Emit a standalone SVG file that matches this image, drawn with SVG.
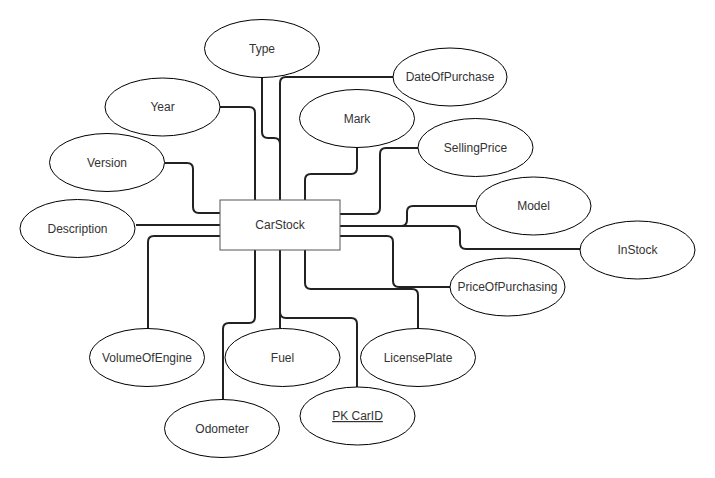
<svg xmlns="http://www.w3.org/2000/svg" width="715" height="478" viewBox="0 0 715 478">
<style>
.e{fill:#fff;stroke:#000;stroke-width:1}
.t{font-family:"Liberation Sans",Arial,sans-serif;font-size:12px;fill:#333;text-anchor:middle}
.c{fill:none;stroke:#222;stroke-width:2}
</style>
<rect width="715" height="478" fill="#fff"/>
<g id="connectors">
<path class="c" d="M262,78 V132 Q262,138 268,138 H274 Q280,138 280,144 V200"/>
<path class="c" d="M393,77 H286 Q280,77 280,83 V200"/>
<path class="c" d="M220,107 H249 Q255,107 255,113 V200"/>
<path class="c" d="M165,163 H187 Q193,163 193,169 V207 Q193,213 199,213 H220"/>
<path class="c" d="M136,225 H220"/>
<path class="c" d="M220,236 H154 Q148,236 148,242 V328"/>
<path class="c" d="M255,250 V317 Q255,323 249,323 H229 Q223,323 223,329 V399"/>
<path class="c" d="M280,250 V328"/>
<path class="c" d="M280,250 V312 Q280,318 286,318 H351 Q357,318 357,324 V387"/>
<path class="c" d="M305,250 V283 Q305,289 311,289 H412 Q418,289 418,295 V328"/>
<path class="c" d="M340,236 H387 Q393,236 393,242 V281 Q393,287 399,287 H450"/>
<path class="c" d="M340,226 H454 Q460,226 460,232 V243 Q460,249 466,249 H580"/>
<path class="c" d="M340,226 H401 Q407,226 407,220 V212 Q407,206 413,206 H476"/>
<path class="c" d="M340,214 H374 Q380,214 380,208 V154 Q380,148 386,148 H418"/>
<path class="c" d="M357,148 V168 Q357,174 351,174 H311 Q305,174 305,180 V200"/>
</g>
<g id="CarStock">
<rect x="220" y="200" width="120" height="50" fill="#fff" stroke="#555" stroke-width="1"/>
<text class="t" x="280" y="229">CarStock</text>
</g>
<g id="Type"><ellipse class="e" cx="262" cy="48.5" rx="57.5" ry="29"/><text class="t" x="262" y="53">Type</text></g>
<g id="Year"><ellipse class="e" cx="162.5" cy="107" rx="57.5" ry="29"/><text class="t" x="162.5" y="111">Year</text></g>
<g id="Version"><ellipse class="e" cx="107" cy="162.5" rx="57.5" ry="29"/><text class="t" x="107" y="167">Version</text></g>
<g id="Description"><ellipse class="e" cx="77.5" cy="228.5" rx="57.5" ry="29"/><text class="t" x="77.5" y="233">Description</text></g>
<g id="DateOfPurchase"><ellipse class="e" cx="450" cy="77" rx="57" ry="29"/><text class="t" x="450" y="81">DateOfPurchase</text></g>
<g id="Mark"><ellipse class="e" cx="357" cy="118.5" rx="57.5" ry="29"/><text class="t" x="357" y="123">Mark</text></g>
<g id="SellingPrice"><ellipse class="e" cx="475.5" cy="147.5" rx="57.5" ry="29"/><text class="t" x="475.5" y="152">SellingPrice</text></g>
<g id="Model"><ellipse class="e" cx="533.5" cy="206" rx="57.5" ry="29"/><text class="t" x="533.5" y="210">Model</text></g>
<g id="InStock"><ellipse class="e" cx="637.5" cy="250" rx="57.5" ry="29"/><text class="t" x="637.5" y="254">InStock</text></g>
<g id="PriceOfPurchasing"><ellipse class="e" cx="507.5" cy="287" rx="57.5" ry="29"/><text class="t" x="507.5" y="291">PriceOfPurchasing</text></g>
<g id="LicensePlate"><ellipse class="e" cx="418" cy="357.5" rx="57.5" ry="29"/><text class="t" x="418" y="362">LicensePlate</text></g>
<g id="VolumeOfEngine"><ellipse class="e" cx="147" cy="357.5" rx="57.5" ry="29"/><text class="t" x="147" y="362">VolumeOfEngine</text></g>
<g id="Fuel"><ellipse class="e" cx="282.5" cy="357.5" rx="57.5" ry="29"/><text class="t" x="282.5" y="362">Fuel</text></g>
<g id="Odometer"><ellipse class="e" cx="222" cy="428.5" rx="57.5" ry="29"/><text class="t" x="222" y="433">Odometer</text></g>
<g id="PKCarID"><ellipse class="e" cx="357.5" cy="416" rx="57.5" ry="29"/><text class="t" x="357.5" y="420" text-decoration="underline">PK CarID</text></g>
</svg>
